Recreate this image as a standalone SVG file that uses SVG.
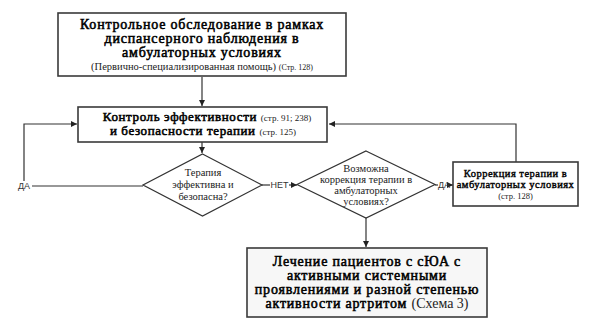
<svg xmlns="http://www.w3.org/2000/svg" width="591" height="335" viewBox="0 0 591 335">
<style>
text{font-family:"Liberation Serif","Times New Roman",serif}
.box{fill:#ffffff;stroke:#3a3a3a;stroke-width:1.6}
.dia{fill:#ffffff;stroke:#333;stroke-width:1.2}
.ln{fill:none;stroke:#333;stroke-width:1.2}
.b{font-weight:normal;fill:#000;stroke:#000;stroke-width:0.55px}
.r{font-weight:normal;fill:#222;stroke:none}
.s{font-family:"Liberation Sans",Arial,sans-serif;fill:#333;font-size:9px}
</style>
<defs>
<marker id="ar" viewBox="0 0 10 10" refX="10" refY="5" markerWidth="6" markerHeight="6" orient="auto" markerUnits="userSpaceOnUse"><path d="M0,0 L10,5 L0,10 z" fill="#222"/></marker>
</defs>
<g id="connectors">
<line class="ln" x1="202" y1="77" x2="202" y2="106" marker-end="url(#ar)"/>
<line class="ln" x1="202" y1="142" x2="202" y2="153" marker-end="url(#ar)"/>
<polyline class="ln" points="143,186 32,186"/>
<polyline class="ln" points="24,181 24,124 77,124" marker-end="url(#ar)"/>
<line class="ln" x1="262" y1="185" x2="270" y2="185"/>
<line class="ln" x1="289" y1="185" x2="297" y2="185" marker-end="url(#ar)"/>
<line class="ln" x1="435" y1="185" x2="438" y2="185"/>
<line class="ln" x1="450" y1="185" x2="453" y2="185" marker-end="url(#ar)"/>
<polyline class="ln" points="516,162 516,124 329,124" marker-end="url(#ar)"/>
<line class="ln" x1="366" y1="217" x2="366" y2="247" marker-end="url(#ar)"/>
<text class="s" x="24" y="189" text-anchor="middle">ДА</text>
<text class="s" x="279.5" y="188" text-anchor="middle">НЕТ</text>
<text class="s" x="444" y="188" text-anchor="middle">ДА</text>
</g>
<g id="n1">
<rect class="box" x="58" y="13" width="288" height="63"/>
<text class="b" font-size="14" text-anchor="middle" letter-spacing="0.8"><tspan x="202" y="29">Контрольное обследование в рамках</tspan><tspan x="202" y="43">диспансерного наблюдения в</tspan><tspan x="202" y="57">амбулаторных условиях</tspan></text>
<text class="r" text-anchor="middle" x="202" y="70" font-size="10.5">(Первично-специализированная помощь) <tspan font-size="8">(Стр. 128)</tspan></text>
</g>
<g id="n2">
<rect class="box" x="78" y="107" width="249" height="35"/>
<text class="b" font-size="13" text-anchor="middle" letter-spacing="0.6" x="207" y="121">Контроль эффективности <tspan class="r" font-size="9" letter-spacing="0">(стр. 91; 238)</tspan></text>
<text class="b" font-size="13" text-anchor="middle" letter-spacing="0.6" x="203" y="135">и безопасности терапии <tspan class="r" font-size="9" letter-spacing="0">(стр. 125)</tspan></text>
</g>
<g id="d1">
<polygon class="dia" points="202.5,154 262,185 202.5,216 143,185"/>
<text class="r" font-size="10.5" text-anchor="middle"><tspan x="203" y="176">Терапия</tspan><tspan x="203" y="188">эффективна и</tspan><tspan x="203" y="200">безопасна?</tspan></text>
</g>
<g id="d2">
<polygon class="dia" points="366,151 435,184.5 366,218 297,184.5"/>
<text class="r" font-size="10.5" text-anchor="middle"><tspan x="366" y="172">Возможна</tspan><tspan x="366" y="183">коррекция терапии в</tspan><tspan x="366" y="194">амбулаторных</tspan><tspan x="366" y="205">условиях?</tspan></text>
</g>
<g id="n3">
<rect class="box" x="453" y="162" width="125" height="44"/>
<text class="b" font-size="10.5" text-anchor="middle" letter-spacing="0.5" style="stroke-width:0.4px"><tspan x="515.5" y="177">Коррекция терапии в</tspan><tspan x="515.5" y="188">амбулаторных условиях</tspan></text>
<text class="r" font-size="8.5" text-anchor="middle" x="515.5" y="199">(стр. 128)</text>
</g>
<g id="n4">
<rect class="box" x="247" y="248" width="240" height="69" style="fill:#f7f7f7"/>
<text class="b" font-size="14" text-anchor="middle" letter-spacing="0.8"><tspan x="367" y="266">Лечение пациентов с сЮА с</tspan><tspan x="367" y="280">активными системными</tspan><tspan x="367" y="294">проявлениями и разной степенью</tspan><tspan x="367" y="308">активности артритом <tspan class="r" letter-spacing="0">(Схема 3)</tspan></tspan></text>
</g>
</svg>
